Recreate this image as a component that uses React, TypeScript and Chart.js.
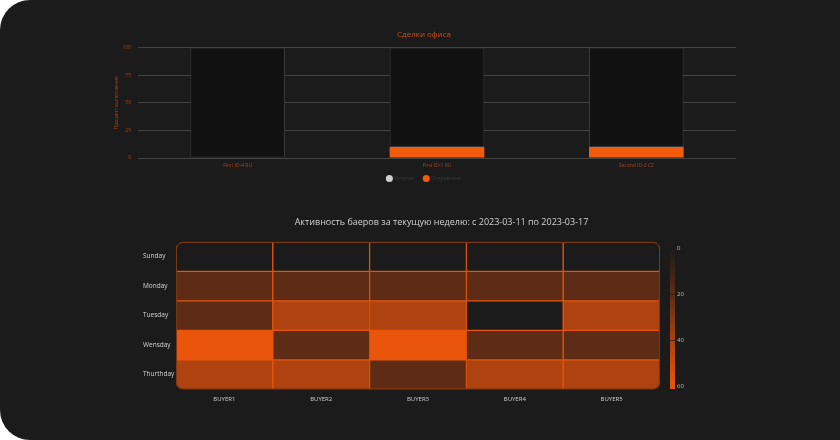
import React, { useEffect, useRef } from 'react';
import { Chart, registerables } from 'chart.js';

Chart.register(...registerables);

// ---------- data ----------
const officeCategories = ['First ID-4 RU', 'First ID-1 RU', 'Second ID-3 CZ'];
const sentValues = [0, 10, 10];
const remainValues = [100, 90, 90];
const percentTicks = [0, 25, 50, 75, 100];

const buyers = ['BUYER1', 'BUYER2', 'BUYER3', 'BUYER4', 'BUYER5'];
const days = ['Sunday', 'Monday', 'Tuesday', 'Wensday', 'Thurthday'];
const sundayValues = [0, 0, 0, 0, 0];
const mondayValues = [20, 20, 20, 20, 20];
const tuesdayValues = [20, 40, 40, 0, 40];
const wednesdayValues = [60, 20, 60, 20, 20];
const thursdayValues = [40, 40, 20, 40, 40];
const colorbarTicks = [0, 20, 40, 60];
const colorStopValues = [0, 20, 40, 60];
const colorStopColors = ['#1b1b1b', '#5e2c15', '#ae430f', '#e9550b'];

const FONT = "'Open Sans', 'Noto Sans', sans-serif";

function hexToRgb(h: string) {
  const n = parseInt(h.slice(1), 16);
  return [(n >> 16) & 255, (n >> 8) & 255, n & 255];
}
function colorFor(v: number) {
  for (let i = 0; i < colorStopValues.length - 1; i++) {
    const a = colorStopValues[i], b = colorStopValues[i + 1];
    if (v <= b || i === colorStopValues.length - 2) {
      const t = Math.max(0, Math.min(1, (v - a) / (b - a)));
      const c1 = hexToRgb(colorStopColors[i]), c2 = hexToRgb(colorStopColors[i + 1]);
      const c = c1.map((x, k) => Math.round(x + (c2[k] - x) * t));
      return `rgb(${c[0]},${c[1]},${c[2]})`;
    }
  }
  return colorStopColors[colorStopColors.length - 1];
}

// compact legend box: keep wide item spacing, but reserve a short box in the layout
const compactLegend = {
  id: 'compactLegend',
  afterInit(chart: any) {
    const lg = chart.legend;
    if (!lg) return;
    const orig = lg.fit.bind(lg);
    lg.fit = function () {
      orig();
      this.height = 7;
    };
  },
  afterLayout(chart: any) {
    const lg = chart.legend;
    if (!lg) return;
    lg.top -= 8;
    lg.height = 24;
    lg.bottom = lg.top + 24;
  },
};

const roundClip = {
  id: 'roundClip',
  beforeDatasetsDraw(chart: any) {
    const { ctx, chartArea: a } = chart;
    ctx.save();
    ctx.beginPath();
    ctx.roundRect(a.left, a.top, a.right - a.left, a.bottom - a.top, 7);
    ctx.clip();
  },
  afterDatasetsDraw(chart: any) {
    const { ctx, chartArea: a } = chart;
    ctx.restore();
    ctx.save();
    ctx.beginPath();
    ctx.roundRect(a.left + 0.5, a.top + 0.5, a.right - a.left - 1, a.bottom - a.top - 1, 7);
    ctx.strokeStyle = '#7a3512';
    ctx.lineWidth = 1;
    ctx.stroke();
    ctx.restore();
  },
};

const colorbar = {
  id: 'colorbar',
  afterDraw(chart: any) {
    const s = chart.scales.cb;
    if (!s) return;
    const { ctx } = chart;
    const x = s.left + 10;
    const w = 5;
    const first = colorStopValues[0];
    const last = colorStopValues[colorStopValues.length - 1];
    const top = s.getPixelForValue(first) - 1;
    const bottom = s.getPixelForValue(last) + 3;
    const g = ctx.createLinearGradient(0, top, 0, bottom);
    colorStopValues.forEach((v, i) => {
      g.addColorStop((v - first) / (last - first), colorStopColors[i]);
    });
    g.addColorStop(1, '#ff5a0a');
    ctx.save();
    ctx.fillStyle = g;
    ctx.fillRect(x, top, w, bottom - top);
    ctx.strokeStyle = 'rgba(45,22,10,0.7)';
    ctx.lineWidth = 1;
    colorbarTicks.slice(1, -1).forEach((v) => {
      const y = Math.round(s.getPixelForValue(v)) + 0.5;
      ctx.beginPath();
      ctx.moveTo(x, y);
      ctx.lineTo(x + w, y);
      ctx.stroke();
    });
    ctx.restore();
  },
};

export default function App() {
  const topRef = useRef<HTMLCanvasElement>(null);
  const heatRef = useRef<HTMLCanvasElement>(null);

  useEffect(() => {
    document.body.style.margin = '0';
    document.body.style.background = '#ffffff';
    const orange = '#f25a0c';
    const tickOrange = '#a8461a';

    const top = new Chart(topRef.current!, {
      type: 'bar',
      data: {
        labels: officeCategories,
        datasets: [
          {
            label: 'Отправлено',
            data: sentValues,
            backgroundColor: orange,
            borderColor: orange,
            borderWidth: 0,
            barPercentage: 0.475,
            categoryPercentage: 1,
          },
          {
            label: 'Остаток',
            data: remainValues,
            backgroundColor: '#111111',
            borderColor: '#3a3a3a',
            borderWidth: 1,
            borderSkipped: false,
            barPercentage: 0.475,
            categoryPercentage: 1,
          },
        ],
      },
      options: {
        animation: false,
        responsive: false,
        maintainAspectRatio: false,
        layout: { padding: { left: 12, right: 12, top: 0, bottom: 10 } },
        plugins: {
          tooltip: { enabled: false },
          title: {
            display: true,
            text: 'Сделки офиса',
            color: '#c8511b',
            font: { size: 8, family: FONT, weight: 'normal' },
            padding: { top: 10, bottom: 8 },
          },
          legend: {
            position: 'bottom',
            reverse: true,
            labels: {
              usePointStyle: true,
              pointStyle: 'circle',
              boxWidth: 5,
              boxHeight: 5,
              padding: 10,
              color: '#3c3c3c',
              font: { size: 5, family: FONT },
              generateLabels: (chart: any) =>
                chart.data.datasets.map((d: any, i: number) => ({
                  text: d.label,
                  fillStyle: i === 0 ? orange : '#d0d0d0',
                  strokeStyle: i === 0 ? orange : '#d0d0d0',
                  fontColor: '#3c3c3c',
                  lineWidth: 0,
                  pointStyle: 'circle',
                  hidden: false,
                  datasetIndex: i,
                })),
            },
          },
        },
        scales: {
          x: {
            stacked: true,
            grid: { display: false, drawTicks: false },
            border: { display: false },
            ticks: { color: tickOrange, font: { size: 5, family: FONT }, padding: 5 },
          },
          y: {
            stacked: true,
            min: 0,
            max: 100,
            afterBuildTicks: (s: any) => {
              s.ticks = percentTicks.map((v) => ({ value: v }));
            },
            afterFit: (s: any) => {
              s.width = 26;
            },
            grid: { color: '#444444', drawTicks: false, lineWidth: 1 },
            border: { display: false },
            ticks: { color: tickOrange, font: { size: 5, family: FONT }, padding: 7 },
            title: {
              display: true,
              text: 'Процент выполнения',
              color: tickOrange,
              font: { size: 5, family: FONT },
              padding: 2,
            },
          },
        },
      },
      plugins: [compactLegend],
    } as any);

    const rows = [sundayValues, mondayValues, tuesdayValues, wednesdayValues, thursdayValues];
    const heat = new Chart(heatRef.current!, {
      type: 'bar',
      data: {
        labels: buyers,
        datasets: rows.map((vals, i) => ({
          label: days[i],
          data: buyers.map(() => [i - 0.5, i + 0.5]),
          backgroundColor: vals.map(colorFor),
          borderColor: '#e8540b',
          borderWidth: 1,
          borderSkipped: false,
          grouped: false,
          barPercentage: 1,
          categoryPercentage: 1,
        })),
      },
      options: {
        animation: false,
        responsive: false,
        maintainAspectRatio: false,
        layout: { padding: { left: 43, right: 0, top: 0, bottom: 0 } },
        plugins: {
          legend: { display: false },
          tooltip: { enabled: false },
          title: {
            display: true,
            text: 'Активность баеров за текущую неделю: с 2023-03-11 по 2023-03-17',
            color: '#d2d2d2',
            font: { size: 9, family: FONT, weight: 'normal' },
            padding: { top: 12, bottom: 14 },
          },
        },
        scales: {
          x: {
            grid: { display: false, drawTicks: false },
            border: { display: false },
            ticks: { color: '#cfcfcf', font: { size: 6, family: FONT }, padding: 6 },
          },
          y: {
            min: -0.5,
            max: 4.5,
            reverse: true,
            afterBuildTicks: (s: any) => {
              s.ticks = days.map((_, i) => ({ value: i }));
            },
            afterFit: (s: any) => {
              s.width = 33;
            },
            grid: { display: false, drawTicks: false },
            border: { display: false },
            ticks: {
              crossAlign: 'far',
              color: '#d2d2d2',
              font: { size: 6.5, family: FONT },
              callback: (v: any) => days[v as number],
            },
          },
          cb: {
            type: 'linear',
            position: 'right',
            min: -3,
            max: 61.5,
            reverse: true,
            afterBuildTicks: (s: any) => {
              s.ticks = colorbarTicks.map((v) => ({ value: v }));
            },
            afterFit: (s: any) => {
              s.width = 80;
            },
            grid: { display: false, drawTicks: false },
            border: { display: false },
            ticks: { color: '#bdbdbd', font: { size: 6, family: FONT }, padding: 17 },
          },
        },
      },
      plugins: [roundClip, colorbar],
    } as any);

    return () => {
      top.destroy();
      heat.destroy();
    };
  }, []);

  return (
    <div style={{ position: 'relative', width: 840, height: 440, background: '#ffffff', overflow: 'hidden' }}>
      <div style={{ position: 'absolute', left: 0, top: 0, width: 840, height: 440, background: '#1b1b1b', borderRadius: '30px 0 0 30px' }} />
      <canvas ref={topRef} width={648} height={171} style={{ position: 'absolute', left: 100, top: 20, width: 648, height: 171 }} />
      <canvas ref={heatRef} width={640} height={205} style={{ position: 'absolute', left: 100, top: 205, width: 640, height: 205 }} />
    </div>
  );
}
